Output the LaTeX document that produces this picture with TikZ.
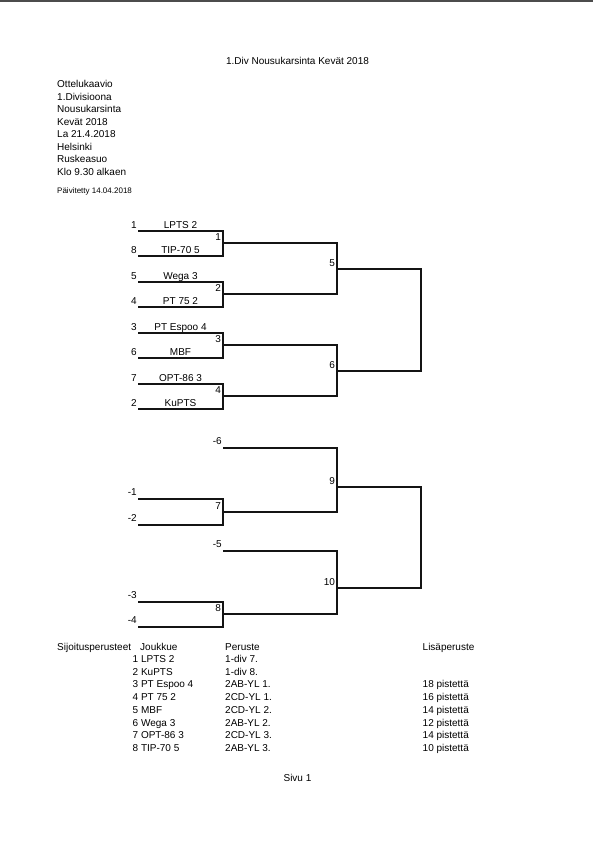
\documentclass[tikz,border=0pt]{standalone}
\usepackage{fontspec}
\setmainfont{Liberation Sans}
\usetikzlibrary{positioning}

\begin{document}
\begin{tikzpicture}[
  x=1pt, y=-1pt,
  font=\fontsize{10}{12}\selectfont,
  txt/.style={inner sep=0pt, anchor=base west},
  small/.style={txt, font=\fontsize{8}{9}\selectfont},
  seed/.style={inner sep=0pt, anchor=base east},
  team/.style={inner sep=0pt, anchor=base},
  mno/.style={inner sep=0pt},
  bar/.style={draw=black!92, line width=2pt, line join=miter},
  edge/.style={draw=black!70, line width=2pt}
]
\useasboundingbox (0,0) rectangle (593,841);
\draw[edge] (0,1) -- (593,1);

\node[team] (title) at (297.5,64) {1.Div Nousukarsinta Kevät 2018};
\foreach \y/\t [count=\i] in {87.5/Ottelukaavio, 100/1.Divisioona, 112.5/Nousukarsinta,
    125/Kevät 2018, 137.5/La 21.4.2018, 150/Helsinki, 162.5/Ruskeasuo, 175/Klo 9.30 alkaen}
  \node[txt] (info\i) at (57,\y) {\t};
\node[small] (upd) at (57,193.5) {Päivitetty 14.04.2018};

\foreach \y/\s/\t [count=\i] in {231/1/LPTS 2, 256/8/TIP-70 5, 282/5/Wega 3, 307/4/PT 75 2,
    333/3/PT Espoo 4, 358/6/MBF, 384/7/OPT-86 3, 409/2/KuPTS}{
  \coordinate (a\i) at (138,\y);
  \coordinate (b\i) at (223,\y);
  \node[seed] (s\i) at (137,\y-3) {\s};
  \node[team] (t\i) at (180.5,\y-3) {\t};
}
\coordinate (m1) at (223,243);
\coordinate (m2) at (223,294);
\coordinate (m3) at (223,345);
\coordinate (m4) at (223,396);
\coordinate (m5) at (337,269);
\coordinate (m6) at (337,371);
\coordinate (fin) at (421,0);

\draw[bar] (a1) -- (b1) -- (b2) -- (a2);
\draw[bar] (a3) -- (b3) -- (b4) -- (a4);
\draw[bar] (a5) -- (b5) -- (b6) -- (a6);
\draw[bar] (a7) -- (b7) -- (b8) -- (a8);
\draw[bar] (m1) -- (m1 -| m5) -- (m2 -| m5) -- (m2);
\draw[bar] (m3) -- (m3 -| m6) -- (m4 -| m6) -- (m4);
\draw[bar] (m5) -- (m5 -| fin) -- (m6 -| fin) -- (m6);
\foreach \i in {1,...,6}
  \node[mno, above left=2.5pt and 1.8pt of m\i] (n\i) {\i};

\coordinate (c1) at (138,499); \coordinate (d1) at (223,499);
\coordinate (c2) at (138,525); \coordinate (d2) at (223,525);
\coordinate (c3) at (138,602); \coordinate (d3) at (223,602);
\coordinate (c4) at (138,627); \coordinate (d4) at (223,627);
\coordinate (e6) at (223,448);
\coordinate (e5) at (223,551);
\coordinate (m7) at (223,512);
\coordinate (m8) at (223,614);
\coordinate (m9) at (337,487);
\coordinate (m10) at (337,588);

\draw[bar] (c1) -- (d1) -- (d2) -- (c2);
\draw[bar] (c3) -- (d3) -- (d4) -- (c4);
\draw[bar] (e6) -- (e6 -| m9) -- (m7 -| m9) -- (m7);
\draw[bar] (e5) -- (e5 -| m10) -- (m8 -| m10) -- (m8);
\draw[bar] (m9) -- (m9 -| fin) -- (m10 -| fin) -- (m10);
\foreach \i in {7,...,10}
  \node[mno, above left=2.5pt and 1.8pt of m\i] (n\i) {\i};
\node[mno, above left=3pt and 1pt of e6] (l6) {-6};
\node[mno, above left=3pt and 1pt of e5] (l5) {-5};
\foreach \i in {1,...,4}
  \node[mno, above left=3.5pt and 1pt of c\i] (w\i) {-\i};

\node[txt] (crit) at (57,650) {Sijoitusperusteet};
\node[txt] (hteam) at (140,650) {Joukkue};
\node[txt] (hbase) at (225,650) {Peruste};
\node[txt] (hextra) at (422.5,650) {Lisäperuste};
\foreach \y/\t/\p [count=\i] in {662.3/LPTS 2/1-div 7., 675/KuPTS/1-div 8., 687.8/PT Espoo 4/2AB-YL 1.,
    700.5/PT 75 2/2CD-YL 1., 713.3/MBF/2CD-YL 2., 726/Wega 3/2AB-YL 2., 738.8/OPT-86 3/2CD-YL 3.,
    751.5/TIP-70 5/2AB-YL 3.}{
  \node[txt] (j\i) at (132.5,\y) {\i\ \t};
  \node[txt] (p\i) at (225,\y) {\p};
}
\foreach \y/\l [count=\i from 3] in {687.8/18, 700.5/16, 713.3/14, 726/12, 738.8/14, 751.5/10}
  \node[txt] (x\i) at (422.5,\y) {\l\ pistettä};

\node[team] (page) at (297.5,781.7) {Sivu 1};
\end{tikzpicture}
\end{document}
